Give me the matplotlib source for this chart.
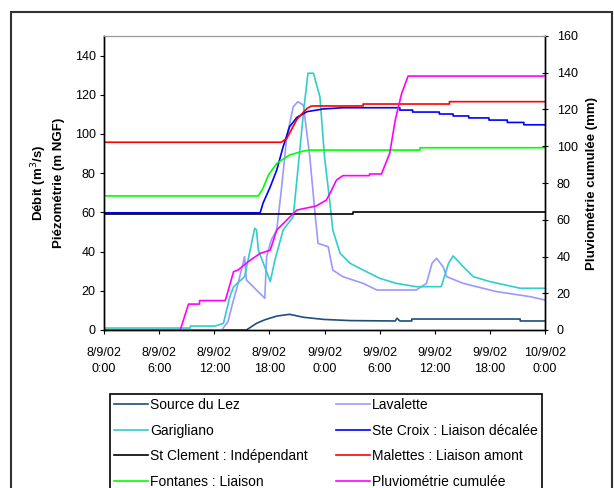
import matplotlib
matplotlib.use('Agg')
import matplotlib.pyplot as plt
import matplotlib.dates as mdates
from matplotlib.patches import Rectangle
import numpy as np
import pandas as pd

plt.rcParams['font.family'] = ['Liberation Sans', 'DejaVu Sans']
plt.rcParams['font.size'] = 9

#%% data (hours after 8/9/02 0:00)

t0 = pd.Timestamp('2002-09-08 00:00')

src_h = [0, 15.5, 16.6, 17.5, 18.8, 20.2, 21.7, 23.9, 26.8, 31.7, 31.9, 32.2, 33.5, 33.5, 45.3, 45.3, 48]
src_v = [0, 0, 3.4, 5.2, 7.1, 8.0, 6.5, 5.4, 4.8, 4.6, 6.0, 4.6, 4.6, 5.6, 5.6, 4.6, 4.6]

gar_h = [0, 9.4, 9.4, 12.1, 13.0, 13.7, 14.1, 15.3, 16.4, 16.6, 16.8, 18.1, 18.6, 19.5, 20.6, 21.1,
         21.7, 22.2, 22.8, 23.5, 24.0, 24.6, 24.9, 25.7, 26.8, 28.2, 30.0, 31.8, 34.0, 36.7, 37.5,
         38.0, 39.1, 40.2, 42.0, 45.3, 48]
gar_v = [1.0, 1.0, 2.0, 2.0, 3.4, 17, 22, 27.2, 51.9, 51, 40.8, 24.7, 35.7, 51, 57.8, 81.6,
         110.5, 131, 131, 119, 88.4, 64.6, 51, 39.1, 34, 30.6, 26.4, 23.8, 22.1, 22.1, 34,
         37.8, 32.3, 27.2, 24.7, 21.3, 21.3]

lav_h = [0, 12.8, 13.5, 13.9, 14.6, 15.3, 15.5, 17.5, 17.7, 18.2, 18.8, 19.3, 19.9, 20.6, 21.1,
         21.7, 22.4, 23.0, 23.3, 24.4, 24.9, 26.0, 28.2, 29.7, 34.0, 35.1, 35.7, 36.2, 36.9, 37.3,
         39.1, 42.7, 46.4, 48]
lav_v = [0, 0, 4.3, 11.9, 23.8, 37.4, 25.5, 16.2, 37.4, 45.9, 51, 71.4, 98.6, 113.9, 116.5,
         114.7, 88.4, 57.8, 44.2, 42.5, 30.6, 27.2, 23.8, 20.4, 20.4, 23.8, 34, 36.6, 32.3, 27.2,
         23.8, 19.6, 17, 15.3]

scx_h = [0, 17.0, 17.3, 18.1, 18.8, 19.5, 20.2, 21.0, 22.1, 23.9, 26.0, 32.2, 32.2, 33.6, 33.6,
         36.5, 36.5, 38, 38, 39.7, 39.7, 41.9, 41.9, 43.9, 43.9, 45.7, 45.7, 48]
scx_v = [59.8, 59.8, 64.6, 73.1, 81.6, 93.5, 103.7, 108.5, 111.4, 112.8, 113.4, 113.4, 112.2, 112.2, 111.2,
         111.2, 110.2, 110.2, 109.2, 109.2, 108.2, 108.2, 107.1, 107.1, 105.9, 105.9, 104.7, 104.7]

stc_h = [0, 27.1, 27.1, 48]
stc_v = [59.3, 59.3, 60.2, 60.2]

mal_h = [0, 19.3, 19.9, 21.0, 22.1, 22.6, 28.2, 28.2, 37.6, 37.6, 48]
mal_v = [95.8, 95.8, 97.8, 107.5, 113.1, 114.3, 114.3, 115.3, 115.3, 116.5, 116.5]

fon_h = [0, 16.8, 17.3, 17.9, 18.8, 20.2, 21.7, 22.4, 34.4, 34.4, 48]
fon_v = [68.4, 68.4, 72.3, 79.1, 85, 89.3, 91.3, 91.8, 91.8, 93.0, 93.0]

plu_h = [0, 8.3, 9.2, 10.4, 10.4, 13.2, 14.1, 14.6, 15.7, 17.0, 18.1, 18.8, 19.9, 21.0, 23.1,
         24.2, 24.6, 25.3, 26.0, 28.9, 28.9, 30.2, 31.1, 31.7, 32.4, 33.1, 48]
plu_v = [0, 0, 14.1, 14.1, 16.0, 16.0, 31.7, 32.7, 37.2, 41.7, 43.5, 54.4, 59.9, 65.3, 67.5,
         70.7, 74.4, 81.6, 84, 84, 84.9, 84.9, 96.2, 114.3, 128.8, 138.2, 138.2]

def tt(h):
    return t0 + pd.to_timedelta(np.asarray(h), unit='h')

#%% plot

fig = plt.figure(figsize=(6.14, 4.88), dpi=100)
ax = fig.add_axes([104/614, 1-330/488, 441/614, 294/488])
ax2 = ax.twinx()

lw = 1.2
l1, = ax.plot(tt(src_h), src_v, color='#1f4e79', lw=lw, label='Source du Lez')
l5, = ax.plot(tt(lav_h), lav_v, color='#9999ff', lw=lw, label='Lavalette')
l2, = ax.plot(tt(gar_h), gar_v, color='#33cccc', lw=lw, label='Garigliano')
l6, = ax.plot(tt(scx_h), scx_v, color='#0000ff', lw=lw, label='Ste Croix : Liaison décalée')
l3, = ax.plot(tt(stc_h), stc_v, color='black', lw=lw, label='St Clement : Indépendant')
l7, = ax.plot(tt(mal_h), mal_v, color='#ff0000', lw=lw, label='Malettes : Liaison amont')
l4, = ax.plot(tt(fon_h), fon_v, color='#00ff00', lw=lw, label='Fontanes : Liaison')
l8, = ax2.plot(tt(plu_h), plu_v, color='#ff00ff', lw=lw, label='Pluviométrie cumulée')

ax.set_xlim(t0, t0 + pd.Timedelta(hours=48))
ax.set_ylim(0, 150)
ax2.set_ylim(0, 160)
ax.set_yticks(np.arange(0, 141, 20))
ax2.set_yticks(np.arange(0, 161, 20))

ax.xaxis.set_major_locator(mdates.HourLocator(byhour=[0, 6, 12, 18]))
ax.xaxis.set_major_formatter(mdates.DateFormatter('%-d/%-m/%y\n%-H:%M'))

ax.tick_params(axis='y', direction='out', length=3, width=0.8, pad=3, labelsize=9)
ax.tick_params(axis='x', direction='out', length=3, width=0.8, pad=9, labelsize=9)
ax2.tick_params(axis='y', direction='inout', length=5, width=0.8, pad=6, labelsize=9)
for lab in ax.get_xticklabels():
    lab.set_linespacing(1.5)

for a in (ax, ax2):
    a.spines['top'].set_color('#999999')
    a.spines['left'].set_linewidth(1.0)
    a.spines['right'].set_linewidth(1.0)
    a.spines['bottom'].set_linewidth(1.0)

ax.set_ylabel('Débit (m$^3$/s)\nPiézométrie (m NGF)', fontsize=9.5, fontweight='bold',
              linespacing=1.4)
ax.yaxis.set_label_coords(-(104-65)/441, 0.5)
ax2.set_ylabel('Pluviométrie cumulée (mm)', fontsize=9.5, fontweight='bold')
ax2.yaxis.set_label_coords(1 + (586-545)/441, 0.5)

fig.patches.append(Rectangle((11/614, -0.01), 601/614, 1.01 - 12/488, transform=fig.transFigure,
                             fill=False, edgecolor='#333333', lw=1.5))

hh = [l1, l2, l3, l4, l5, l6, l7, l8]
leg = fig.legend(hh, [h.get_label() for h in hh],
                 ncol=2, loc='upper left', bbox_to_anchor=(110/614, -0.06, 432/614, 1-394/488+0.06),
                 mode='expand', fancybox=False, edgecolor='black', framealpha=1,
                 fontsize=10, handlelength=2.45, handletextpad=0.15, labelspacing=0.83,
                 borderpad=0.3, borderaxespad=0, columnspacing=1.0)
leg.get_frame().set_linewidth(1.2)

plt.savefig('out.png', dpi=100)
